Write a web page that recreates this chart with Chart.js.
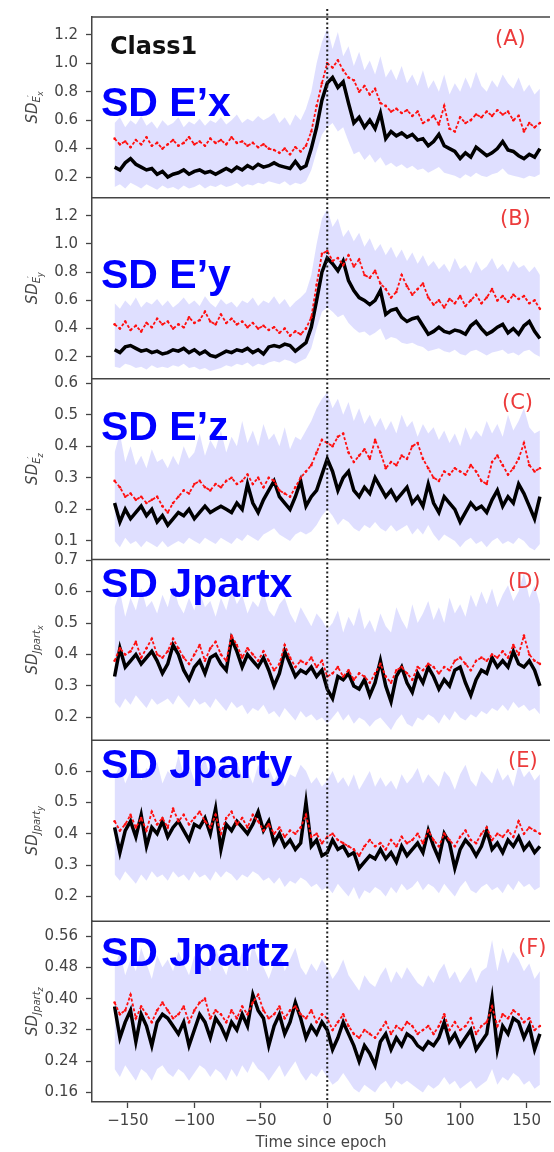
<!DOCTYPE html>
<html>
<head>
<meta charset="utf-8">
<script src="https://cdn.jsdelivr.net/npm/chart.js@4.4.1/dist/chart.umd.min.js"></script>
<style>
  html, body { margin: 0; padding: 0; background: #fff; }
  canvas { display: block; }
</style>
</head>
<body>
<canvas id="chart" width="554" height="1152"></canvas>
<script>
// time since epoch (every 4 units)
const times = [
  -160,-156,-152,-148,-144,-140,-136,-132,-128,-124,
  -120,-116,-112,-108,-104,-100,-96,-92,-88,-84,
  -80,-76,-72,-68,-64,-60,-56,-52,-48,-44,
  -40,-36,-32,-28,-24,-20,-16,-12,-8,-4,
  0,4,8,12,16,20,24,28,32,36,
  40,44,48,52,56,60,64,68,72,76,
  80,84,88,92,96,100,104,108,112,116,
  120,124,128,132,136,140,144,148,152,156,
  160
];

// (A) SD E'x
const exBlack = [0.27,0.25,0.30,0.33,0.29,0.27,0.25,0.26,0.22,0.24, 0.20,0.22,0.23,0.25,0.22,0.24,0.25,0.23,0.24,0.22, 0.24,0.26,0.24,0.27,0.25,0.28,0.26,0.29,0.27,0.28, 0.30,0.28,0.27,0.26,0.31,0.26,0.28,0.40,0.55,0.74, 0.86,0.90,0.83,0.87,0.72,0.58,0.62,0.55,0.60,0.54, 0.65,0.47,0.52,0.49,0.51,0.48,0.50,0.46,0.47,0.42, 0.45,0.50,0.42,0.40,0.38,0.33,0.37,0.34,0.41,0.38, 0.35,0.37,0.40,0.45,0.39,0.38,0.35,0.33,0.36,0.34, 0.40];
const exRed = [0.47,0.43,0.45,0.41,0.46,0.43,0.48,0.42,0.44,0.40, 0.43,0.46,0.42,0.44,0.48,0.43,0.45,0.42,0.47,0.44, 0.46,0.43,0.48,0.44,0.45,0.42,0.44,0.41,0.43,0.40, 0.39,0.37,0.40,0.36,0.41,0.38,0.42,0.52,0.70,0.86, 1.00,0.97,1.02,0.95,0.90,0.88,0.80,0.84,0.78,0.82, 0.72,0.70,0.66,0.68,0.65,0.67,0.63,0.66,0.58,0.60, 0.63,0.57,0.70,0.54,0.52,0.62,0.58,0.60,0.64,0.62, 0.66,0.63,0.67,0.64,0.66,0.60,0.63,0.52,0.58,0.55, 0.58];
const exHigh = [0.58,0.62,0.55,0.60,0.57,0.63,0.56,0.59,0.54,0.60, 0.56,0.58,0.62,0.55,0.59,0.57,0.61,0.56,0.60,0.58, 0.62,0.57,0.60,0.64,0.58,0.61,0.59,0.63,0.60,0.62, 0.65,0.58,0.62,0.56,0.64,0.60,0.68,0.80,1.00,1.15, 1.25,1.10,1.22,1.05,1.12,0.98,1.08,0.95,1.02,0.92, 1.05,0.90,0.96,0.88,0.98,0.86,0.92,0.84,0.95,0.82, 0.88,0.80,0.92,0.78,0.86,0.80,0.90,0.82,0.94,0.84, 0.80,0.88,0.83,0.92,0.86,0.82,0.90,0.80,0.85,0.78, 0.82];
const exLow = [0.13,0.15,0.12,0.16,0.14,0.12,0.15,0.13,0.11,0.14, 0.12,0.13,0.11,0.14,0.12,0.13,0.15,0.12,0.14,0.13, 0.15,0.13,0.14,0.16,0.13,0.15,0.14,0.16,0.15,0.17, 0.16,0.15,0.17,0.14,0.16,0.15,0.17,0.25,0.38,0.50, 0.55,0.58,0.52,0.55,0.45,0.36,0.38,0.32,0.36,0.30, 0.34,0.28,0.30,0.27,0.29,0.26,0.28,0.25,0.26,0.23, 0.25,0.27,0.23,0.22,0.21,0.19,0.22,0.20,0.23,0.21, 0.20,0.22,0.23,0.26,0.22,0.21,0.20,0.19,0.21,0.20, 0.22];

// (B) SD E'y
const eyBlack = [0.25,0.23,0.27,0.28,0.26,0.24,0.25,0.23,0.24,0.22, 0.23,0.25,0.24,0.26,0.23,0.25,0.22,0.24,0.21,0.20, 0.22,0.24,0.23,0.25,0.24,0.26,0.23,0.25,0.22,0.27, 0.28,0.27,0.29,0.28,0.24,0.27,0.30,0.41,0.60,0.80, 0.90,0.86,0.81,0.88,0.74,0.67,0.62,0.60,0.57,0.60, 0.67,0.50,0.53,0.54,0.48,0.45,0.47,0.48,0.42,0.36, 0.38,0.41,0.38,0.37,0.39,0.38,0.36,0.42,0.45,0.40, 0.36,0.38,0.41,0.43,0.37,0.40,0.36,0.42,0.45,0.38, 0.33];
const eyRed = [0.43,0.40,0.45,0.39,0.42,0.38,0.44,0.41,0.47,0.43, 0.45,0.40,0.43,0.41,0.48,0.44,0.46,0.52,0.45,0.43, 0.50,0.44,0.47,0.43,0.45,0.41,0.44,0.40,0.42,0.39, 0.41,0.37,0.40,0.35,0.38,0.36,0.40,0.48,0.71,0.93, 0.95,0.88,0.90,0.85,0.92,0.84,0.89,0.78,0.76,0.81, 0.72,0.68,0.62,0.66,0.78,0.70,0.64,0.68,0.72,0.62, 0.57,0.60,0.55,0.61,0.58,0.63,0.56,0.60,0.64,0.58, 0.62,0.68,0.60,0.63,0.59,0.64,0.61,0.63,0.58,0.60, 0.54];
const eyHigh = [0.58,0.54,0.60,0.56,0.62,0.55,0.59,0.57,0.61,0.56, 0.60,0.55,0.58,0.62,0.57,0.60,0.56,0.63,0.58,0.55, 0.61,0.57,0.59,0.55,0.60,0.58,0.62,0.56,0.60,0.58, 0.63,0.57,0.61,0.55,0.59,0.62,0.66,0.78,1.00,1.18, 1.25,1.12,1.18,1.05,1.10,1.02,1.08,0.98,1.04,0.95, 1.00,0.92,0.98,0.90,0.96,0.88,0.94,0.86,0.92,0.84, 0.88,0.82,0.86,0.80,0.90,0.82,0.85,0.79,0.88,0.81, 0.84,0.90,0.82,0.86,0.80,0.88,0.83,0.85,0.80,0.84, 0.78];
const eyLow = [0.13,0.12,0.15,0.14,0.12,0.13,0.11,0.14,0.12,0.13, 0.12,0.14,0.13,0.15,0.12,0.13,0.11,0.12,0.10,0.11, 0.12,0.14,0.13,0.15,0.14,0.16,0.13,0.15,0.14,0.16, 0.17,0.16,0.18,0.17,0.15,0.17,0.19,0.26,0.40,0.52, 0.55,0.52,0.48,0.50,0.44,0.40,0.37,0.38,0.35,0.37, 0.40,0.32,0.34,0.33,0.30,0.29,0.30,0.28,0.27,0.24, 0.25,0.26,0.24,0.23,0.25,0.22,0.21,0.24,0.25,0.23, 0.21,0.23,0.24,0.25,0.22,0.23,0.21,0.24,0.25,0.22, 0.20];

// (C) SD E'z
const ezBlack = [0.22,0.16,0.20,0.17,0.19,0.21,0.18,0.20,0.16,0.18, 0.15,0.17,0.19,0.18,0.20,0.17,0.19,0.21,0.19,0.20, 0.21,0.20,0.19,0.22,0.20,0.28,0.22,0.19,0.23,0.26, 0.29,0.24,0.22,0.20,0.24,0.29,0.21,0.24,0.26,0.31, 0.36,0.32,0.26,0.30,0.32,0.26,0.24,0.27,0.25,0.30, 0.27,0.24,0.26,0.23,0.25,0.27,0.22,0.24,0.21,0.28, 0.22,0.19,0.24,0.22,0.20,0.16,0.19,0.22,0.20,0.21, 0.19,0.23,0.26,0.21,0.24,0.22,0.28,0.25,0.21,0.17, 0.24];
const ezRed = [0.29,0.27,0.24,0.25,0.23,0.24,0.22,0.23,0.24,0.21, 0.19,0.22,0.24,0.26,0.25,0.28,0.29,0.27,0.26,0.28, 0.27,0.29,0.30,0.28,0.29,0.31,0.28,0.30,0.27,0.30, 0.29,0.26,0.25,0.24,0.27,0.30,0.32,0.34,0.38,0.42, 0.41,0.40,0.43,0.44,0.38,0.35,0.37,0.39,0.36,0.42, 0.38,0.33,0.35,0.34,0.37,0.36,0.40,0.41,0.36,0.33, 0.30,0.29,0.32,0.31,0.33,0.32,0.31,0.34,0.32,0.29, 0.28,0.35,0.37,0.34,0.31,0.33,0.36,0.41,0.34,0.32, 0.33];
const ezHigh = [0.38,0.44,0.35,0.40,0.34,0.37,0.33,0.39,0.35,0.36, 0.33,0.37,0.34,0.40,0.36,0.38,0.44,0.37,0.42,0.39, 0.45,0.38,0.43,0.40,0.48,0.41,0.45,0.40,0.47,0.42, 0.44,0.40,0.46,0.39,0.43,0.42,0.45,0.48,0.52,0.55, 0.57,0.52,0.55,0.50,0.54,0.48,0.52,0.47,0.50,0.46, 0.49,0.45,0.48,0.44,0.50,0.46,0.48,0.43,0.47,0.44, 0.46,0.42,0.45,0.41,0.44,0.40,0.46,0.42,0.45,0.43, 0.48,0.44,0.47,0.43,0.50,0.45,0.48,0.52,0.46,0.44, 0.45];
const ezLow = [0.10,0.08,0.11,0.09,0.10,0.08,0.10,0.09,0.08,0.10, 0.08,0.09,0.10,0.09,0.11,0.10,0.09,0.11,0.10,0.09, 0.11,0.10,0.09,0.11,0.10,0.12,0.11,0.10,0.12,0.13, 0.14,0.12,0.11,0.10,0.12,0.13,0.12,0.13,0.15,0.18, 0.20,0.18,0.15,0.17,0.16,0.14,0.13,0.15,0.14,0.16, 0.14,0.13,0.15,0.13,0.14,0.15,0.12,0.14,0.12,0.15, 0.12,0.10,0.12,0.11,0.10,0.08,0.10,0.11,0.09,0.10, 0.08,0.10,0.11,0.09,0.10,0.09,0.11,0.10,0.08,0.07, 0.09];

// (D) SD Jpartx
const jxBlack = [0.33,0.42,0.36,0.38,0.40,0.37,0.39,0.41,0.38,0.34, 0.37,0.43,0.40,0.35,0.32,0.36,0.38,0.34,0.39,0.40, 0.37,0.35,0.45,0.41,0.36,0.40,0.38,0.36,0.39,0.35, 0.30,0.34,0.41,0.37,0.33,0.35,0.34,0.36,0.33,0.35, 0.29,0.26,0.33,0.32,0.34,0.30,0.29,0.32,0.27,0.31, 0.38,0.30,0.25,0.33,0.36,0.31,0.28,0.34,0.31,0.36, 0.33,0.29,0.32,0.30,0.35,0.36,0.31,0.27,0.32,0.35, 0.34,0.39,0.36,0.38,0.36,0.41,0.37,0.36,0.38,0.35, 0.30];
const jxRed = [0.38,0.42,0.40,0.41,0.44,0.39,0.42,0.45,0.40,0.39, 0.41,0.45,0.42,0.39,0.37,0.40,0.43,0.38,0.42,0.44, 0.40,0.38,0.46,0.43,0.39,0.42,0.40,0.38,0.41,0.38, 0.35,0.37,0.43,0.39,0.36,0.38,0.37,0.39,0.36,0.38, 0.33,0.34,0.36,0.33,0.35,0.32,0.34,0.33,0.31,0.34, 0.37,0.33,0.31,0.35,0.36,0.34,0.32,0.36,0.35,0.37, 0.36,0.34,0.36,0.35,0.38,0.39,0.37,0.35,0.38,0.39, 0.38,0.40,0.39,0.41,0.39,0.43,0.40,0.46,0.40,0.38, 0.37];
const jxHigh = [0.55,0.60,0.52,0.58,0.54,0.61,0.55,0.57,0.53,0.59, 0.55,0.62,0.56,0.53,0.58,0.54,0.60,0.55,0.57,0.52, 0.58,0.54,0.61,0.56,0.59,0.53,0.57,0.55,0.60,0.54, 0.52,0.56,0.58,0.53,0.50,0.55,0.52,0.49,0.53,0.51, 0.48,0.50,0.54,0.47,0.52,0.49,0.55,0.48,0.51,0.47, 0.53,0.49,0.47,0.55,0.51,0.48,0.56,0.50,0.53,0.57, 0.51,0.55,0.50,0.58,0.53,0.56,0.52,0.59,0.55,0.60, 0.56,0.61,0.55,0.59,0.62,0.57,0.60,0.66,0.58,0.62, 0.56];
const jxLow = [0.25,0.23,0.26,0.24,0.27,0.25,0.23,0.26,0.24,0.25, 0.26,0.24,0.27,0.25,0.23,0.26,0.24,0.25,0.23,0.26, 0.24,0.22,0.25,0.23,0.24,0.21,0.23,0.22,0.24,0.21, 0.22,0.20,0.23,0.21,0.19,0.22,0.20,0.21,0.19,0.20, 0.18,0.20,0.22,0.19,0.21,0.18,0.20,0.19,0.17,0.19, 0.20,0.18,0.16,0.19,0.21,0.18,0.17,0.20,0.19,0.21, 0.20,0.18,0.21,0.19,0.22,0.20,0.19,0.21,0.20,0.22, 0.21,0.23,0.22,0.24,0.22,0.25,0.23,0.24,0.22,0.23, 0.21];

// (E) SD Jparty
const jyBlack = [0.42,0.34,0.41,0.44,0.39,0.46,0.36,0.42,0.40,0.44, 0.39,0.42,0.44,0.41,0.38,0.43,0.42,0.45,0.40,0.48, 0.35,0.43,0.41,0.44,0.42,0.40,0.43,0.47,0.41,0.44, 0.37,0.40,0.36,0.38,0.35,0.37,0.50,0.36,0.38,0.33, 0.34,0.38,0.35,0.36,0.33,0.34,0.29,0.31,0.33,0.32, 0.35,0.32,0.34,0.31,0.36,0.33,0.35,0.37,0.34,0.41, 0.36,0.32,0.40,0.37,0.29,0.35,0.38,0.36,0.33,0.36, 0.41,0.35,0.37,0.34,0.38,0.36,0.39,0.35,0.37,0.34, 0.36];
const jyRed = [0.44,0.41,0.43,0.46,0.42,0.45,0.41,0.47,0.43,0.45, 0.42,0.48,0.44,0.46,0.43,0.45,0.47,0.44,0.42,0.46, 0.40,0.45,0.47,0.43,0.45,0.42,0.46,0.44,0.41,0.43, 0.40,0.42,0.39,0.41,0.40,0.42,0.46,0.39,0.40,0.37, 0.39,0.40,0.38,0.37,0.36,0.35,0.33,0.36,0.38,0.36, 0.37,0.35,0.38,0.36,0.39,0.37,0.38,0.40,0.37,0.41, 0.38,0.36,0.40,0.38,0.36,0.39,0.41,0.38,0.37,0.40, 0.42,0.38,0.40,0.39,0.41,0.39,0.44,0.40,0.42,0.41, 0.40];
const jyHigh = [0.58,0.62,0.56,0.60,0.64,0.57,0.61,0.59,0.63,0.56, 0.60,0.58,0.65,0.59,0.62,0.57,0.61,0.64,0.58,0.62, 0.57,0.61,0.59,0.63,0.58,0.60,0.56,0.62,0.59,0.61, 0.57,0.60,0.55,0.59,0.58,0.62,0.60,0.56,0.58,0.55, 0.57,0.60,0.56,0.58,0.55,0.59,0.54,0.57,0.60,0.55, 0.58,0.55,0.57,0.54,0.59,0.56,0.58,0.61,0.56,0.59, 0.57,0.55,0.60,0.58,0.54,0.59,0.62,0.57,0.55,0.60, 0.58,0.56,0.61,0.57,0.59,0.55,0.62,0.58,0.60,0.57, 0.59];
const jyLow = [0.27,0.25,0.28,0.26,0.24,0.27,0.25,0.28,0.26,0.27, 0.25,0.28,0.26,0.27,0.25,0.28,0.26,0.27,0.25,0.28, 0.26,0.28,0.27,0.25,0.27,0.26,0.28,0.27,0.25,0.26, 0.24,0.26,0.23,0.25,0.24,0.26,0.25,0.23,0.24,0.22, 0.23,0.21,0.24,0.22,0.20,0.23,0.19,0.22,0.21,0.23, 0.22,0.20,0.23,0.21,0.24,0.22,0.23,0.25,0.22,0.24, 0.23,0.21,0.24,0.22,0.20,0.23,0.25,0.22,0.21,0.23, 0.24,0.22,0.23,0.21,0.24,0.22,0.25,0.23,0.24,0.22, 0.23];

// (F) SD Jpartz
const jzBlack = [0.38,0.30,0.34,0.37,0.29,0.36,0.33,0.28,0.34,0.36, 0.35,0.33,0.31,0.34,0.28,0.32,0.36,0.34,0.30,0.35, 0.33,0.30,0.34,0.32,0.36,0.33,0.41,0.37,0.35,0.28, 0.33,0.36,0.31,0.34,0.39,0.35,0.30,0.33,0.31,0.34, 0.32,0.27,0.30,0.34,0.31,0.28,0.24,0.28,0.26,0.23, 0.29,0.31,0.27,0.30,0.28,0.31,0.30,0.28,0.27,0.29, 0.28,0.30,0.34,0.29,0.31,0.28,0.30,0.32,0.27,0.29, 0.31,0.40,0.27,0.33,0.31,0.35,0.34,0.30,0.33,0.27, 0.31];
const jzRed = [0.39,0.36,0.37,0.41,0.35,0.38,0.36,0.34,0.37,0.39, 0.37,0.35,0.36,0.38,0.34,0.37,0.39,0.40,0.35,0.37, 0.36,0.34,0.37,0.35,0.38,0.36,0.39,0.41,0.37,0.35, 0.36,0.38,0.35,0.37,0.38,0.36,0.35,0.37,0.34,0.36, 0.35,0.32,0.34,0.36,0.33,0.31,0.30,0.32,0.31,0.30, 0.32,0.34,0.31,0.33,0.32,0.34,0.33,0.31,0.32,0.33, 0.31,0.33,0.36,0.32,0.34,0.32,0.33,0.35,0.31,0.33, 0.34,0.38,0.33,0.36,0.35,0.37,0.36,0.34,0.35,0.32, 0.33];
const jzHigh = [0.48,0.52,0.46,0.50,0.47,0.53,0.49,0.45,0.51,0.48, 0.50,0.47,0.52,0.49,0.46,0.51,0.48,0.50,0.47,0.53, 0.49,0.46,0.51,0.48,0.52,0.47,0.54,0.50,0.48,0.45, 0.49,0.52,0.47,0.50,0.53,0.48,0.46,0.49,0.47,0.50, 0.48,0.45,0.47,0.50,0.46,0.44,0.42,0.46,0.44,0.43, 0.46,0.48,0.44,0.47,0.45,0.48,0.46,0.44,0.43,0.46, 0.44,0.47,0.49,0.45,0.47,0.44,0.46,0.48,0.44,0.47, 0.48,0.55,0.47,0.53,0.49,0.52,0.50,0.47,0.49,0.45, 0.47];
const jzLow = [0.22,0.20,0.23,0.21,0.19,0.22,0.21,0.19,0.22,0.23, 0.21,0.20,0.22,0.21,0.19,0.21,0.23,0.22,0.20,0.22, 0.21,0.19,0.22,0.20,0.23,0.21,0.24,0.22,0.21,0.19, 0.21,0.23,0.20,0.22,0.24,0.21,0.19,0.21,0.20,0.22, 0.20,0.18,0.19,0.21,0.19,0.17,0.16,0.18,0.17,0.16, 0.18,0.19,0.17,0.19,0.18,0.19,0.18,0.17,0.16,0.18, 0.17,0.18,0.20,0.18,0.19,0.17,0.18,0.19,0.17,0.18, 0.19,0.22,0.18,0.20,0.19,0.21,0.20,0.18,0.19,0.17, 0.18];

const panelNames = ['SD E\u2019x', 'SD E\u2019y', 'SD E\u2019z', 'SD Jpartx', 'SD Jparty', 'SD Jpartz'];
const panelLetters = ['(A)', '(B)', '(C)', '(D)', '(E)', '(F)'];
const xTicks = [-150, -100, -50, 0, 50, 100, 150];

const FONT = '"DejaVu Sans", sans-serif';
const axisColor = '#444';

function panelSets(axis, low, high, red, black) {
    return [
        { data: low, yAxisID: axis, borderWidth: 0, pointRadius: 0, fill: false, order: 3 },
        { data: high, yAxisID: axis, borderWidth: 0, pointRadius: 0, fill: '-1',
          backgroundColor: 'rgba(185,185,255,0.45)', order: 3 },
        { data: red, yAxisID: axis, borderColor: '#ff1010', borderWidth: 1.8, borderDash: [3, 2],
          pointRadius: 1.3, pointBackgroundColor: '#ff1010', pointBorderWidth: 0, order: 1 },
        { data: black, yAxisID: axis, borderColor: '#000', borderWidth: 3.5, pointRadius: 0, order: 2 },
    ];
}

function yScale(min, max, step, weight, digits) {
    return {
        type: 'linear', position: 'left', stack: 'panels', stackWeight: 1, weight: weight,
        min: min, max: max,
        grid: { drawOnChartArea: false, drawTicks: true, tickLength: 6, tickColor: axisColor, tickWidth: 1.3 },
        border: { color: axisColor, width: 1.5 },
        ticks: { stepSize: step, includeBounds: false, autoSkip: false, padding: 8, color: axisColor,
                 font: { family: FONT, size: 15 }, callback: (v) => v.toFixed(digits) },
        afterFit: (s) => { s.width = 92; },
    };
}

// y-axis title with sub/superscripts, drawn rotated
function yTitle(ctx, scale, base, comp, prime) {
    const cy = (scale.top + scale.bottom) / 2;
    ctx.save();
    ctx.translate(37, cy);
    ctx.rotate(-Math.PI / 2);
    ctx.fillStyle = axisColor;
    ctx.textBaseline = 'alphabetic';
    ctx.textAlign = 'left';
    ctx.font = 'italic 15px ' + FONT;
    const w1 = ctx.measureText('SD').width;
    ctx.font = 'italic 10px ' + FONT;
    const w2 = ctx.measureText(base).width;
    ctx.font = 'italic 8px ' + FONT;
    const w3 = ctx.measureText(comp).width;
    let x = -(w1 + w2 + w3) / 2;
    ctx.font = 'italic 15px ' + FONT;
    ctx.fillText('SD', x, 0);
    x += w1;
    ctx.font = 'italic 10px ' + FONT;
    ctx.fillText(base, x, 3);
    x += w2;
    ctx.font = 'italic 8px ' + FONT;
    if (prime) ctx.fillText('\u2032', x - 1, -3);
    ctx.fillText(comp, x, 6);
    ctx.restore();
}

const decor = {
    id: 'decor',
    afterDatasetsDraw(chart) {
        const { ctx, chartArea, scales } = chart;
        const x0 = scales.x.getPixelForValue(0);
        ctx.save();
        ctx.strokeStyle = '#222';
        ctx.lineWidth = 2;
        ctx.setLineDash([2, 2.5]);
        ctx.beginPath();
        ctx.moveTo(x0, chartArea.top - 8);
        ctx.lineTo(x0, chartArea.bottom);
        ctx.stroke();
        ctx.restore();
    },
    afterDraw(chart) {
        const { ctx, chartArea, scales } = chart;
        const ids = ['yA', 'yB', 'yC', 'yD', 'yE', 'yF'];
        const nameOffset = [99, 90, 61, 37, 38, 45];
        const letterX = [495, 500, 502, 508, 508, 518];
        const letterOffset = [28, 27, 30, 28, 27, 33];
        const comps = ['x', 'y', 'z', 'x', 'y', 'z'];
        ctx.save();
        ids.forEach((id, i) => {
            const s = scales[id];
            // panel separator
            ctx.strokeStyle = axisColor;
            ctx.lineWidth = 1.5;
            ctx.beginPath();
            ctx.moveTo(chartArea.left, s.top);
            ctx.lineTo(chartArea.right, s.top);
            ctx.stroke();

            ctx.textAlign = 'left';
            ctx.textBaseline = 'alphabetic';
            ctx.fillStyle = '#0000ff';
            ctx.font = 'bold 41px "Liberation Sans", Arial, sans-serif';
            ctx.fillText(panelNames[i], 101, s.top + nameOffset[i]);

            ctx.fillStyle = '#ec3b3b';
            ctx.font = '21px ' + FONT;
            ctx.fillText(panelLetters[i], letterX[i], s.top + letterOffset[i]);

            yTitle(ctx, s, i < 3 ? 'E' : 'Jpart', comps[i], i < 3);
        });
        ctx.fillStyle = '#111';
        ctx.font = 'bold 24px ' + FONT;
        ctx.fillText('Class1', 110, scales.yA.top + 37);
        ctx.restore();
    }
};

const ctx = document.getElementById('chart').getContext('2d');

const data = {
    labels: times,
    datasets: [].concat(
        panelSets('yA', exLow, exHigh, exRed, exBlack),
        panelSets('yB', eyLow, eyHigh, eyRed, eyBlack),
        panelSets('yC', ezLow, ezHigh, ezRed, ezBlack),
        panelSets('yD', jxLow, jxHigh, jxRed, jxBlack),
        panelSets('yE', jyLow, jyHigh, jyRed, jyBlack),
        panelSets('yF', jzLow, jzHigh, jzRed, jzBlack)
    ),
};

const config = {
    type: 'line',
    data: data,
    options: {
        responsive: false,
        animation: false,
        devicePixelRatio: 1,
        layout: { padding: { top: 11, left: 0, right: 0, bottom: 0 } },
        elements: { line: { tension: 0 } },
        plugins: { legend: { display: false }, tooltip: { enabled: false } },
        scales: {
            x: {
                type: 'linear', min: -177, max: 167.6,
                grid: { drawOnChartArea: false, drawTicks: true, tickLength: 6, tickColor: axisColor, tickWidth: 1.3 },
                border: { color: axisColor, width: 1.5 },
                afterBuildTicks: (s) => { s.ticks = xTicks.map((v) => ({ value: v })); },
                ticks: { padding: 4, autoSkip: false, color: axisColor, font: { family: FONT, size: 15 },
                         callback: (v) => (v < 0 ? '\u2212' + Math.abs(v) : String(v)) },
                title: { display: true, text: 'Time since epoch', color: axisColor,
                         font: { family: FONT, size: 15 }, padding: { top: 0, bottom: 0 } },
                afterFit: (s) => { s.height = 50; },
            },
            yF: yScale(0.136, 0.598, 0.08, 1, 2),
            yE: yScale(0.121, 0.698, 0.1, 2, 1),
            yD: yScale(0.127, 0.702, 0.1, 3, 1),
            yC: yScale(0.041, 0.614, 0.1, 4, 1),
            yB: yScale(0.045, 1.327, 0.2, 5, 1),
            yA: yScale(0.054, 1.325, 0.2, 6, 1),
        },
    },
    plugins: [decor],
};

const myChart = new Chart(ctx, config);
</script>
</body>
</html>
